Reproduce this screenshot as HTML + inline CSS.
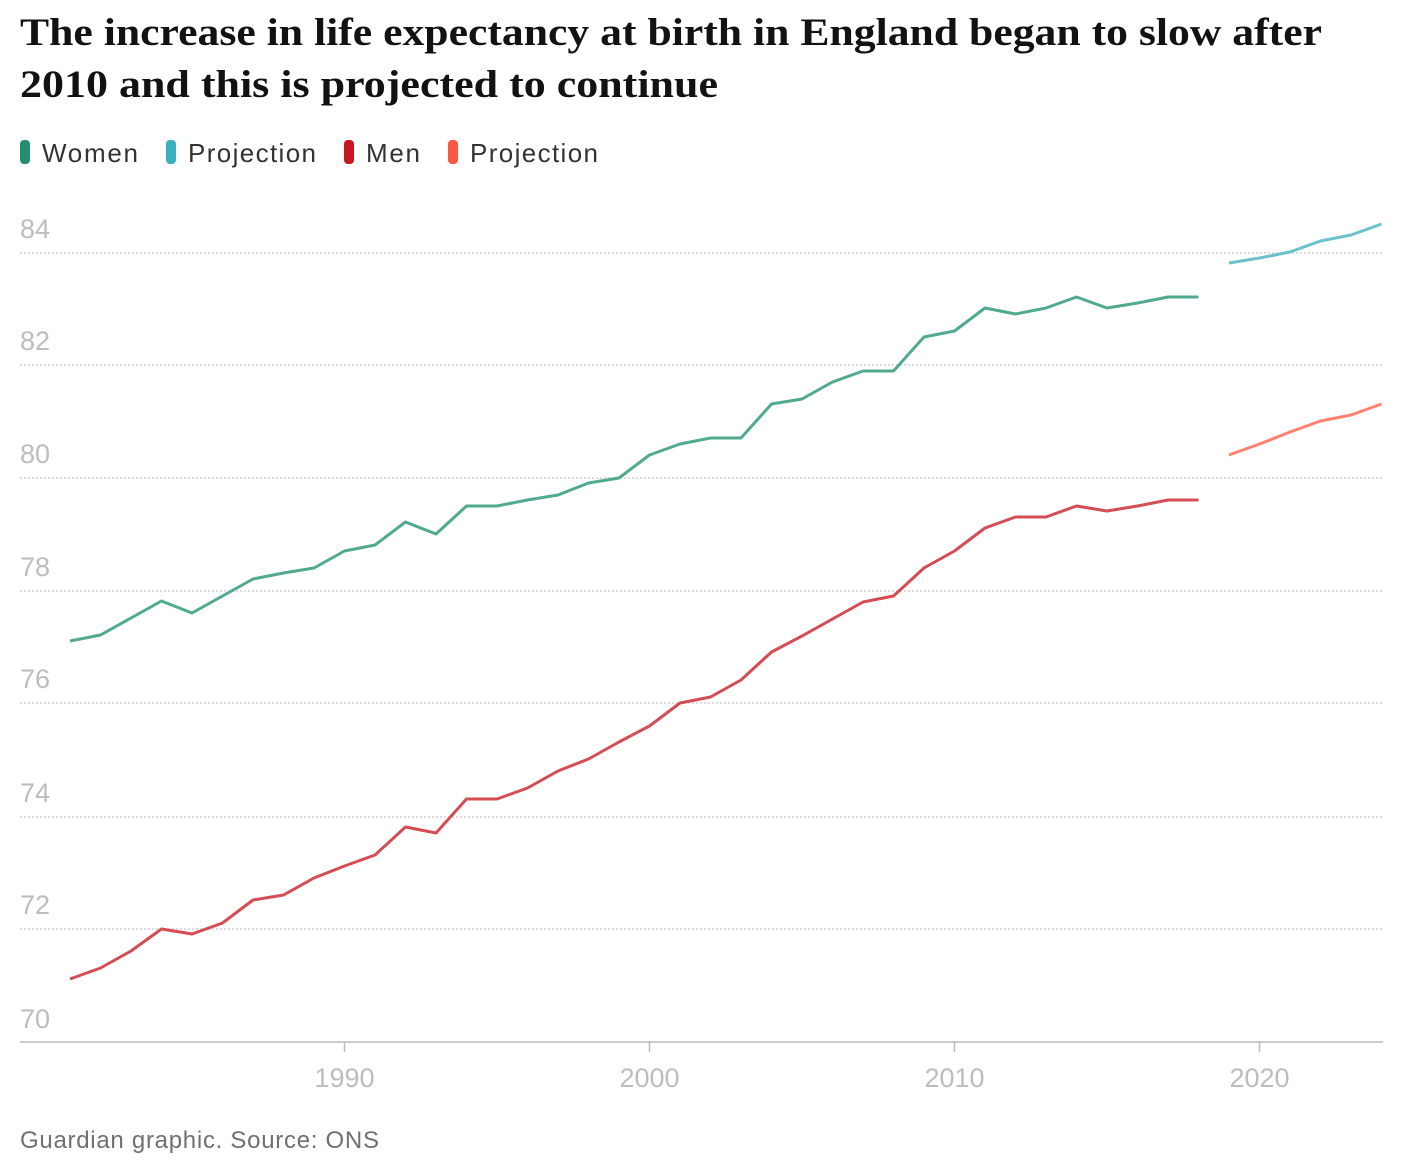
<!DOCTYPE html>
<html><head><meta charset="utf-8"><style>
body{margin:0;background:#fff;width:1426px;height:1162px;overflow:hidden}
svg{display:block}
</style></head><body>
<svg width="1426" height="1162" xmlns="http://www.w3.org/2000/svg">
<text x="20" y="45" font-family="Liberation Serif, serif" font-weight="bold" font-size="39" fill="#121212" textLength="1302" lengthAdjust="spacingAndGlyphs">The increase in life expectancy at birth in England began to slow after</text>
<text x="20" y="97" font-family="Liberation Serif, serif" font-weight="bold" font-size="39" fill="#121212" textLength="698" lengthAdjust="spacingAndGlyphs">2010 and this is projected to continue</text>
<g font-family="Liberation Sans, sans-serif" font-size="26" fill="#333">
<rect x="20" y="140" width="10" height="24" rx="4" fill="#22906f"/><text x="42" y="162" textLength="96">Women</text>
<rect x="166" y="140" width="10" height="24" rx="4" fill="#3aafbd"/><text x="188" y="162" textLength="128">Projection</text>
<rect x="344" y="140" width="10" height="24" rx="4" fill="#c9151e"/><text x="366" y="162" textLength="54">Men</text>
<rect x="448" y="140" width="10" height="24" rx="4" fill="#ff5744"/><text x="470" y="162" textLength="128">Projection</text>
</g>
<g stroke="#cfcfcf" stroke-width="1.5" stroke-dasharray="2,2">
<line x1="20" x2="1383" y1="253" y2="253"/><line x1="20" x2="1383" y1="365" y2="365"/>
<line x1="20" x2="1383" y1="478" y2="478"/><line x1="20" x2="1383" y1="591" y2="591"/>
<line x1="20" x2="1383" y1="703" y2="703"/><line x1="20" x2="1383" y1="817" y2="817"/>
<line x1="20" x2="1383" y1="929" y2="929"/>
</g>
<line x1="20" x2="1383" y1="1042" y2="1042" stroke="#bbb" stroke-width="1.5"/>
<g stroke="#bbb" stroke-width="1.5">
<line x1="344.5" x2="344.5" y1="1042" y2="1052"/><line x1="649.5" x2="649.5" y1="1042" y2="1052"/>
<line x1="954.5" x2="954.5" y1="1042" y2="1052"/><line x1="1259.5" x2="1259.5" y1="1042" y2="1052"/>
</g>
<g font-family="Liberation Sans, sans-serif" font-size="27" fill="#bdbdbd">
<text x="20" y="238">84</text><text x="20" y="350">82</text><text x="20" y="463">80</text>
<text x="20" y="576">78</text><text x="20" y="688">76</text><text x="20" y="802">74</text>
<text x="20" y="914">72</text><text x="20" y="1028">70</text>
<text x="344.5" y="1087" text-anchor="middle">1990</text><text x="649.5" y="1087" text-anchor="middle">2000</text>
<text x="954.5" y="1087" text-anchor="middle">2010</text><text x="1259.5" y="1087" text-anchor="middle">2020</text>
</g>
<g fill="none" stroke-width="3" stroke-linejoin="round">
<polyline stroke="#4faa8e" points="70,641 100.5,635 131,618 161.5,601 192,613 222.5,596 253,579 283.5,573 314,568 344.5,551 375,545 405.5,522 436,534 466.5,506 497,506 527.5,500 558,495 588.5,483 619,478 649.5,455 680,444 710.5,438 741,438 771.5,404 802,399 832.5,382 863,371 893.5,371 924,337 954.5,331 985,308 1015.5,314 1046,308 1076.5,297 1107,308 1137.5,303 1168,297 1198.5,297"/>
<polyline stroke="#6bc1cc" points="1229,263 1259.5,258 1290,252 1320.5,241 1351,235 1381.5,224"/>
<polyline stroke="#d54c53" points="70,979 100.5,968 131,951 161.5,929 192,934 222.5,923 253,900 283.5,895 314,878 344.5,866 375,855 405.5,827 436,833 466.5,799 497,799 527.5,788 558,771 588.5,759 619,742 649.5,726 680,703 710.5,697 741,680 771.5,652 802,636 832.5,619 863,602 893.5,596 924,568 954.5,551 985,528 1015.5,517 1046,517 1076.5,506 1107,511 1137.5,506 1168,500 1198.5,500"/>
<polyline stroke="#ff8270" points="1229,455 1259.5,444 1290,432 1320.5,421 1351,415 1381.5,404"/>
</g>
<text x="20" y="1148" font-family="Liberation Sans, sans-serif" font-size="24" fill="#707070" textLength="359">Guardian graphic. Source: ONS</text>
</svg>
</body></html>
